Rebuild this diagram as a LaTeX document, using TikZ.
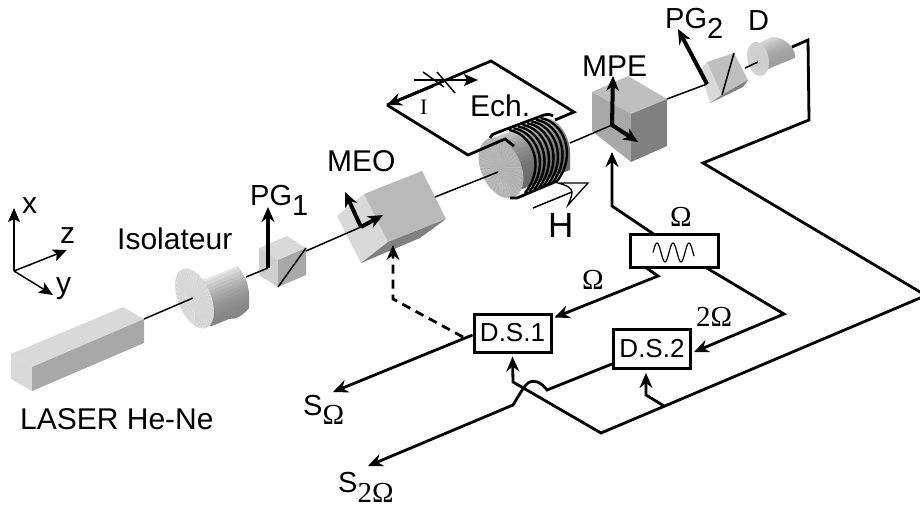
\documentclass[tikz,border=0pt]{standalone}
\usepackage{fontspec}
\setmainfont{Liberation Sans}
\newfontfamily\srf{Liberation Serif}
\usetikzlibrary{arrows.meta,calc}
\newcommand\sbb[1]{\raisebox{-10pt}{#1}}
\newcommand\bandfill[8]{% clip-path is set by caller: x0 y0 width h N gtop gbottom slope
  \foreach \i in {0,...,#5}{
    \pgfmathsetmacro\gv{#7+(#6-#7)*(1-\i/#5)^2}
    \definecolor{bc}{gray}{\gv}
    \fill[bc] (#1,{#2+\i*#4}) -- ({#1+#3},{#2+\i*#4-#8*#3}) -- ({#1+#3},{#2+(\i+1.2)*#4-#8*#3}) -- (#1,{#2+(\i+1.2)*#4}) -- cycle;
  }}
\newcommand\diskfan[8]{% cx cy ax ay bx by g amp
  \foreach \t in {0,4,...,356}{
    \pgfmathsetmacro\gv{#7+#8*sin(\t*37)}
    \definecolor{bc}{gray}{\gv}
    \filldraw[bc,line width=.2pt] (#1,#2) -- ({#1+#3*sin(\t)+#5*cos(\t)},{#2+#4*sin(\t)+#6*cos(\t)}) -- ({#1+#3*sin(\t+4)+#5*cos(\t+4)},{#2+#4*sin(\t+4)+#6*cos(\t+4)}) -- cycle;
  }}
\definecolor{gl}{gray}{.85}
\definecolor{gm}{gray}{.78}
\definecolor{gd}{gray}{.66}
\tikzset{
  lbl/.style={anchor=base west,inner sep=0pt,font=\fontsize{30}{31}\selectfont},
  lblm/.style={anchor=base west,inner sep=0pt,font=\fontsize{29}{30}\selectfont},
  srflbl/.style={anchor=base west,inner sep=0pt,font=\fontsize{29}{30}\selectfont\srf},
  thinline/.style={line width=1.5pt},
  beam/.style={line width=1.5pt},
  wire/.style={line width=2.8pt,line join=miter},
  arr/.style={-{Stealth[length=15pt,width=13pt,inset=5pt]}},
  axarr/.style={-{Stealth[length=14pt,width=12pt,inset=3pt]}},
  pol/.style={line width=4pt},
  box/.style={draw,line width=3pt,inner sep=0pt,fill=white,font=\fontsize{26}{27}\selectfont},
}
\begin{document}
\begin{tikzpicture}[x=1pt,y=-1pt]
\useasboundingbox (0,0) rectangle (920,508);
% laser
\fill[gl] (11,354) -- (123,307) -- (144,319) -- (32,367) -- cycle;
\fill[gl] (11,354) -- (32,367) -- (32,391) -- (11,379) -- cycle;
\fill[gd] (32,367) -- (144,319) -- (144,343) -- (32,391) -- cycle;
% isolator
\begin{scope}
\clip (195,283) -- (238,266) .. controls (244,275) and (249,283) .. (249,296) -- (249,308) .. controls (243,316) and (235,319) .. (229,319) -- (212,326) -- (195,325) -- cycle;
\bandfill{190}{281}{70}{3.7}{15}{.95}{.52}{.42}
\end{scope}
\diskfan{194.5}{298.5}{12}{29}{15}{-6.5}{.85}{.02}
% PG1
\fill[gl] (259,248) -- (287,236) -- (306,248) -- (278,260) -- cycle;
\fill[gm!60!gl] (259,248) -- (278,260) -- (278,287) -- (259,275) -- cycle;
\fill[gd] (278,260) -- (306,248) -- (306,275) -- (278,287) -- cycle;
% MEO
\fill[gl] (337,216) -- (364,194) -- (388,242) -- (361,263) -- cycle;
\fill[gray!55] (364,194) -- (422,171) -- (446,219) -- (388,242) -- cycle;
\fill[gray] (388,242) -- (446,219) -- (420,238) -- (361,263) -- cycle;
% coil cylinder
\begin{scope}
\clip (493,138) -- (547,118) .. controls (560,120) and (570,138) .. (570,153) -- (570,173) .. controls (567,177) and (563,180) .. (558,181) -- (515,198) -- (505,170) -- cycle;
\bandfill{485}{140}{95}{4.5}{13}{.78}{.42}{.40}
\end{scope}
% windings behind the disk
\foreach \i in {0,...,7}{
  \coordinate (wa) at ({509+4.5*\i},{130-1.7*\i});
  \coordinate (wb) at ({525+4.5*\i},{193-1.6*\i});
  \draw[line width=2.4pt] (wa) .. controls +(22,3) and +(22,-28) .. (wb);
}
\diskfan{501}{168}{13}{29}{18}{-8}{.71}{.03}
% MPE
\fill[gray!50] (592,92) -- (628,76) -- (667,99) -- (631,114) -- cycle;
\fill[gd] (592,92) -- (631,114) -- (631,162) -- (592,131) -- cycle;
\fill[black!50] (631,114) -- (667,99) -- (667,146) -- (631,162) -- cycle;
% PG2
\fill[gl] (700,70) -- (707,62) -- (722,95) -- (710,103) -- cycle;
\fill[gray!50] (707,62) -- (734,53) -- (748,80) -- (722,95) -- cycle;
\fill[black!50] (722,95) -- (748,80) -- (743,87) -- (710,103) -- cycle;
% detector
\begin{scope}
\clip (757,44) -- (772,37) .. controls (784,37) and (795,47) .. (795,56) -- (795,62) .. controls (790,68) and (785,70) .. (780,71) -- (765,76) -- (755,70) -- cycle;
\bandfill{750}{44}{50}{2.3}{13}{.88}{.62}{.42}
\end{scope}
\diskfan{758}{59}{5}{16}{9.5}{-4.5}{.82}{.012}

% coordinates
\coordinate (laserEnd) at (144,319);
\coordinate (isoC) at (193,298);
\coordinate (isoOut) at (246,277);
\coordinate (pgA) at (268,268);
\coordinate (pgAtip) at (268,207);
\coordinate (pgAout) at (306,251);
\coordinate (meoA) at (361,227);
\coordinate (meoB) at (383,215);
\coordinate (meoC) at (345,192);
\coordinate (meoOut) at (435,197);
\coordinate (coilC) at (498,172);
\coordinate (coilOut) at (570,143);
\coordinate (mpeO) at (612,125);
\coordinate (mpeU) at (613,76);
\coordinate (mpeR) at (638,142);
\coordinate (mpeOut) at (667,99);
\coordinate (pgB) at (707,84);
\coordinate (pgBtip) at (678,29);
\coordinate (pgBout) at (745,68);
\coordinate (detC) at (758,62);

% beam
\draw[beam] (laserEnd) -- (isoC);
\draw[beam] (isoOut) -- (pgA);
\draw[beam] (pgAout) -- (meoA);
\draw[beam] (meoOut) -- (coilC);
\draw[beam] (coilOut) -- (mpeO);
\draw[beam] (mpeOut) -- (pgB);
\draw[beam] (pgBout) -- (detC);
\draw[thinline] (278,287) -- (306,248);
\draw[thinline] (722,95) -- (734,53);
% polarisation arrows
\draw[pol,arr] (pgA) -- (pgAtip);
\draw[pol,arr] (meoA) -- (meoB);
\draw[pol,arr] (meoA) -- (meoC);
\draw[pol,arr] (mpeO) -- (mpeU);
\draw[pol,arr] (mpeO) -- (mpeR);
\draw[pol,arr] (pgB) -- (pgBtip);

% coil outline
\draw[wire] (490,138) .. controls (491,135) and (493,134) .. (496,133) -- (544,115) .. controls (547,114) and (550,114) .. (553,116);
\draw[wire] (510,198) -- (517,198) -- (557,181);

% sample loop
\coordinate (la) at (505,139);
\coordinate (lb) at (468,155);
\coordinate (lc) at (387,105);
\coordinate (ld) at (491,61);
\coordinate (le) at (574,112);
\coordinate (lf) at (555,120);
\coordinate (lmid) at (433,86);
\coordinate (lg) at (514,146);
\draw[wire] (lg) -- (la) -- (lb) -- (lc);
\draw[wire] (lc) -- (ld) -- (le) -- (lf);
\draw[wire,arr] (lmid) -- (lc);
\draw[thinline] (423,72) -- (444,87);
\draw[thinline] (437,72) -- (455,93);
\coordinate (ia) at (414,80);
\coordinate (ib) at (478,80);
\draw[thinline,axarr] (ia) -- (ib);

% H arrow
\coordinate (ha) at (533,208);
\coordinate (hb) at (572,192);
\draw[thinline] (ha) -- (hb);
\draw[line width=1.3pt] (558,183) .. controls (566,185) and (572,188) .. (572,192) .. controls (572,196) and (570,200) .. (568,205) -- (588,183) -- cycle;

% axes
\coordinate (ax0) at (14,271);
\coordinate (axx) at (14,208);
\coordinate (axz) at (67,250);
\coordinate (axy) at (53,295);
\draw[thinline,axarr] (ax0) -- (axx);
\draw[thinline,axarr] (ax0) -- (axz);
\draw[thinline,axarr] (ax0) -- (axy);

% electronics
\node[box,minimum width=88pt,minimum height=33pt] (gen) at (674,251) {};
\node[box,minimum width=77pt,minimum height=38pt] (ds1) at (512.5,333) {D.S.1};
\node[box,minimum width=77pt,minimum height=39pt] (ds2) at (652,349) {D.S.2};
\draw[line width=1.2pt] plot[domain=653:694,samples=60,smooth] (\x,{252.5-9.5*cos(22.5*(\x-657))});

\coordinate (g1) at (612,206);
\coordinate (g2) at (612,152);
\coordinate (genA) at (645,267);
\coordinate (genB) at (658,276);
\coordinate (genC) at (705,267);
\coordinate (genD) at (784,314);
\coordinate (genTop) at (655,235);
\draw[wire,arr] (genTop) -- (g1) -- (g2);
\draw[wire,arr] (genA) -- (genB) -- ([shift={(2,5)}]ds1.north east);
\draw[wire,arr] (genC) -- (genD) -- ([shift={(2,3)}]ds2.east);

\coordinate (meoIn) at (393,245);
\coordinate (dsh) at (393,299);
\draw[wire,arr,dash pattern=on 9pt off 6pt] (463,337) -- (dsh) -- (meoIn);
\coordinate (so) at (333,392);
\draw[wire,arr] ([shift={(0,2)}]ds1.west) -- (so);

\coordinate (h1) at (547,390);
\coordinate (s2) at (368,466);
\draw[wire,arr] ([shift={(0,15)}]ds2.west) -- (h1) .. controls (541,382) and (534,379) .. (528,383) .. controls (524,386) and (521,392) .. (513,405) -- (s2);

\coordinate (d1) at (792,47);
\coordinate (d2) at (808,40);
\coordinate (d3) at (809,120);
\coordinate (d4) at (703,163);
\coordinate (d5) at (926,295.5);
\coordinate (d6) at (601,433);
\coordinate (d7) at (513,382);
\coordinate (b1) at (664,406);
\coordinate (b2) at (646,395);
\draw[wire,arr] (d1) -- (d2) -- (d3) -- (d4) -- (d5) -- (d6) -- (d7) -- ([shift={(0,3)}]ds1.south);
\draw[wire,arr] (b1) -- (b2) -- ([shift={(-6,3)}]ds2.south);

% labels
\node[lbl] (tx) at (22,213) {x};
\node[lbl] (tz) at (60,243) {z};
\node[lbl] (ty) at (56,293) {y};
\node[lbl] (tiso) at (117,249) {Isolateur};
\node[lbl] (tlas) at (20,429) {LASER He-Ne};
\node[lblm] (tpg1) at (250,205) {PG\sbb{1}};
\node[lbl] (tmeo) at (327,171) {MEO};
\node[lbl] (tech) at (470,117) {Ech.};
\node[lbl] (tmpe) at (582,77) {MPE};
\node[lblm] (tpg2) at (665,29) {PG\sbb{2}};
\node[lblm] (td) at (748,31) {D};
\node[anchor=base west,inner sep=0pt,font=\fontsize{35}{36}\selectfont] (tH) at (548,237) {H};
\node[anchor=base west,inner sep=0pt,font=\fontsize{22}{23}\selectfont\srf] (tI) at (420,114) {I};
\node[srflbl,anchor=base] (tom2) at (681,226) {Ω};
\node[srflbl,anchor=base] (tom3) at (593,289) {Ω};
\node[srflbl] (t2om) at (696,326) {2Ω};
\node[lblm] (tso) at (303,415) {S\raisebox{-9pt}{\srf Ω}};
\node[lblm] (ts2o) at (338,492) {S\raisebox{-10pt}{\srf 2Ω}};
\end{tikzpicture}
\end{document}
